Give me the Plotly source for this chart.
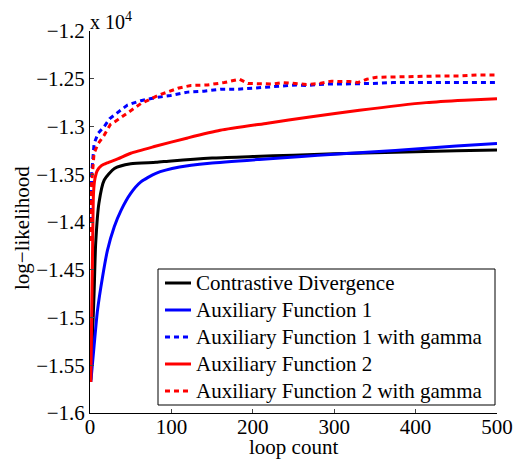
import plotly.graph_objects as go

# loop counts and log-likelihood values (in units of 10^4)
cd_x = [1, 3, 5, 7, 11, 17.5, 30, 50, 81, 100, 150, 200, 250, 300, 350, 400, 450, 500]
cd_y = [-1.565, -1.52, -1.475, -1.422, -1.38, -1.356, -1.344, -1.339, -1.3375, -1.336, -1.333,
        -1.3315, -1.330, -1.3285, -1.3275, -1.3265, -1.3255, -1.3245]

af1_x = [1, 5, 9.2, 15.4, 21.5, 29.8, 38, 50, 62.5, 81, 110, 147, 208, 260, 300, 350, 400, 450, 500]
af1_y = [-1.5675, -1.53, -1.4925, -1.4575, -1.4295, -1.405, -1.388, -1.370, -1.358, -1.349,
         -1.3425, -1.3385, -1.3345, -1.3315, -1.329, -1.3265, -1.3235, -1.3205, -1.3177]

af1g_x = [1, 2, 5, 10, 17.5, 24, 30, 38, 46, 62.5, 79, 99, 120, 140, 161, 181, 202, 218, 229, 241,
          254, 266, 280, 290, 305, 319, 344, 372, 413, 454, 500]
af1g_y = [-1.40, -1.35, -1.318, -1.307, -1.300, -1.292, -1.288, -1.283, -1.2775, -1.273, -1.270,
          -1.2675, -1.264, -1.263, -1.261, -1.261, -1.2595, -1.259, -1.2575, -1.257, -1.2565,
          -1.257, -1.256, -1.2555, -1.2555, -1.2555, -1.255, -1.254, -1.254, -1.254, -1.254]

af2_x = [1, 2, 3, 4.3, 6, 9, 14, 21.5, 34, 50, 79, 120, 160, 218, 270, 331, 413, 460, 500]
af2_y = [-1.5675, -1.50, -1.44, -1.37, -1.355, -1.346, -1.341, -1.338, -1.334, -1.328, -1.321,
         -1.312, -1.304, -1.2965, -1.290, -1.283, -1.275, -1.2725, -1.271]

af2g_x = [1, 2, 5, 10, 17.5, 25, 34, 46, 62.5, 85, 108, 124, 144, 165, 183.5, 194, 212.5, 225,
          237, 249, 266, 282, 297, 307, 319, 329, 340, 352, 372, 393, 413.5, 434, 454, 475, 500]
af2g_y = [-1.42, -1.36, -1.328, -1.318, -1.309, -1.298, -1.293, -1.286, -1.276, -1.267, -1.260,
          -1.257, -1.2565, -1.254, -1.2505, -1.255, -1.2555, -1.2555, -1.254, -1.255, -1.256,
          -1.255, -1.2525, -1.253, -1.253, -1.254, -1.2505, -1.2485, -1.248, -1.248, -1.247,
          -1.247, -1.247, -1.246, -1.246]

x_ticks = [0, 100, 200, 300, 400, 500]
y_ticks = [-1.6, -1.55, -1.5, -1.45, -1.4, -1.35, -1.3, -1.25, -1.2]
y_tick_labels = ["\u22121.6", "\u22121.55", "\u22121.5", "\u22121.45", "\u22121.4",
                 "\u22121.35", "\u22121.3", "\u22121.25", "\u22121.2"]

series_names = ["Contrastive Divergence", "Auxiliary Function 1",
                "Auxiliary Function 1 with gamma", "Auxiliary Function 2",
                "Auxiliary Function 2 with gamma"]

FONT = "Liberation Serif"
FS = 21
dotdash = "5px,4px"
W, H = 524, 459
L, R, T, B = 90, 27, 31, 46
PW, PH = W - L - R, H - T - B

def px_x(p):
    return (p - L) / PW

def px_y(p):
    return (H - B - p) / PH

styles = [
    dict(color="black", width=3, shape="spline", smoothing=0.6),
    dict(color="#0000ff", width=3, shape="spline", smoothing=0.6),
    dict(color="#0000ff", width=3, dash=dotdash),
    dict(color="#ff0000", width=3, shape="spline", smoothing=0.6),
    dict(color="#ff0000", width=3, dash=dotdash),
]
data = [(cd_x, cd_y), (af1_x, af1_y), (af1g_x, af1g_y), (af2_x, af2_y), (af2g_x, af2g_y)]

fig = go.Figure()
for (xs, ys), name, st in zip(data, series_names, styles):
    fig.add_trace(go.Scatter(x=xs, y=ys, mode="lines", name=name, line=st))

fig.update_layout(
    width=W, height=H,
    margin=dict(l=L, r=R, t=T, b=B),
    paper_bgcolor="white", plot_bgcolor="white",
    font=dict(family=FONT, size=FS, color="black"),
    showlegend=False,
)
fig.update_xaxes(range=[0, 500], tickvals=x_ticks, ticks="inside", ticklen=4,
                 showline=True, linecolor="black", linewidth=1, showgrid=False,
                 zeroline=False, tickfont=dict(family=FONT, size=FS), automargin=False,
                 ticklabelstandoff=-5)
fig.update_yaxes(range=[-1.6, -1.2], tickvals=y_ticks, ticktext=y_tick_labels,
                 ticks="inside", ticklen=4, showline=True, linecolor="black", linewidth=1,
                 showgrid=False, zeroline=False, tickfont=dict(family=FONT, size=FS),
                 automargin=False)
fig.add_annotation(text="loop count", xref="paper", yref="paper", x=px_x(293), y=px_y(447),
                   xanchor="center", yanchor="middle", showarrow=False,
                   font=dict(family=FONT, size=FS), borderpad=0)
fig.add_annotation(text="log\u2212likelihood", xref="paper", yref="paper", x=px_x(22), y=px_y(228),
                   xanchor="center", yanchor="middle", showarrow=False, textangle=-90,
                   font=dict(family=FONT, size=FS))
fig.add_annotation(text="x 10<sup>4</sup>", xref="paper", yref="paper", x=0.0, y=1,
                   xanchor="left", yanchor="bottom", showarrow=False,
                   font=dict(family=FONT, size=20), yshift=-4, xshift=-2)

# legend box (drawn manually to match the original compact layout)
box_l, box_r, box_t, box_b = 158, 495, 269, 405
fig.add_shape(type="rect", xref="paper", yref="paper",
              x0=px_x(box_l), x1=px_x(box_r), y0=px_y(box_b), y1=px_y(box_t),
              line=dict(color="black", width=1), fillcolor="white", layer="above")
row_y = [283, 310, 337, 364, 391]
for ry, name, st in zip(row_y, series_names, styles):
    fig.add_shape(type="line", xref="paper", yref="paper",
                  x0=px_x(165), x1=px_x(191), y0=px_y(ry), y1=px_y(ry),
                  line=dict(color=st["color"], width=3, dash=st.get("dash", "solid")),
                  layer="above")
    fig.add_annotation(text=name, xref="paper", yref="paper", x=px_x(194), y=px_y(ry),
                       xanchor="left", yanchor="middle", showarrow=False,
                       font=dict(family=FONT, size=FS))

fig.write_html("out.html", config={"displayModeBar": False},
               post_script="document.body.style.margin='0';document.body.style.padding='0';")
